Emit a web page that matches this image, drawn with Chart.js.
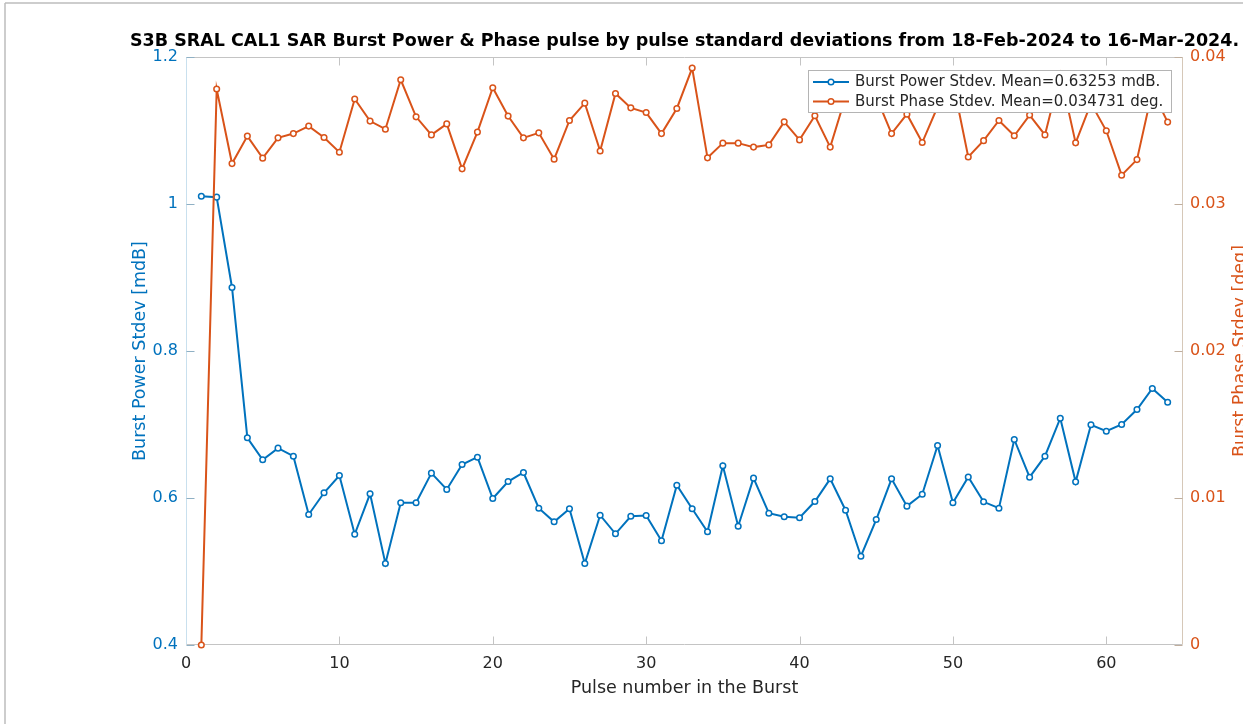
<!DOCTYPE html>
<html>
<head>
<meta charset="utf-8">
<script src="https://cdn.jsdelivr.net/npm/chart.js@4.4.1/dist/chart.umd.min.js"></script>
<style>
  html, body { margin: 0; padding: 0; background: #fff; }
  #wrap { position: relative; width: 1243px; height: 724px; }
</style>
</head>
<body>
<div id="wrap"><canvas id="chart" width="1243" height="724"></canvas></div>
<script>
const titleText = "S3B SRAL CAL1 SAR Burst Power & Phase pulse by pulse standard deviations from 18-Feb-2024 to 16-Mar-2024.";
const xTitle = "Pulse number in the Burst";
const powerTitle = "Burst Power Stdev [mdB]";
const phaseTitle = "Burst Phase Stdev [deg]";
const powerLabel = "Burst Power Stdev. Mean=0.63253 mdB.";
const phaseLabel = "Burst Phase Stdev. Mean=0.034731 deg.";

const pulses = [1, 2, 3, 4, 5, 6, 7, 8, 9, 10, 11, 12, 13, 14, 15, 16,
  17, 18, 19, 20, 21, 22, 23, 24, 25, 26, 27, 28, 29, 30, 31, 32,
  33, 34, 35, 36, 37, 38, 39, 40, 41, 42, 43, 44, 45, 46, 47, 48,
  49, 50, 51, 52, 53, 54, 55, 56, 57, 58, 59, 60, 61, 62, 63, 64];

const powerStdev = [1.0106, 1.0093, 0.8864, 0.6819, 0.6520, 0.6678, 0.6569, 0.5776,
  0.6071, 0.6306, 0.5507, 0.6057, 0.5109, 0.5935, 0.5935, 0.6338,
  0.6116, 0.6456, 0.6555, 0.5993, 0.6224, 0.6347, 0.5861, 0.5676,
  0.5853, 0.5109, 0.5766, 0.5513, 0.5752, 0.5762, 0.5418, 0.6174,
  0.5853, 0.5540, 0.6438, 0.5616, 0.6270, 0.5793, 0.5744, 0.5731,
  0.5952, 0.6261, 0.5834, 0.5208, 0.5707, 0.6261, 0.5889, 0.6052,
  0.6714, 0.5935, 0.6286, 0.5948, 0.5861, 0.6796, 0.6283, 0.6569,
  0.7086, 0.6220, 0.6996, 0.6909, 0.7000, 0.7204, 0.7490, 0.7303];

const phaseStdev = [0.0000, 0.03782, 0.03275, 0.03462, 0.03312, 0.03450, 0.03479, 0.03530,
  0.03452, 0.03352, 0.03714, 0.03564, 0.03509, 0.03845, 0.03593, 0.03470,
  0.03545, 0.03239, 0.03489, 0.03791, 0.03598, 0.03450, 0.03484, 0.03305,
  0.03568, 0.03686, 0.03361, 0.03752, 0.03654, 0.03622, 0.03479, 0.03650,
  0.03925, 0.03314, 0.03414, 0.03414, 0.03387, 0.03402, 0.03559, 0.03436,
  0.03600, 0.03387, 0.03729, 0.03780, 0.03729, 0.03479, 0.03611, 0.03418,
  0.03661, 0.03832, 0.03320, 0.03431, 0.03568, 0.03464, 0.03605, 0.03470,
  0.03886, 0.03416, 0.03685, 0.03498, 0.03196, 0.03302, 0.03770, 0.03557];

const xTicks = [0, 10, 20, 30, 40, 50, 60];
const powerTicks = [0.4, 0.6, 0.8, 1, 1.2];
const phaseTicks = [0, 0.01, 0.02, 0.03, 0.04];

const BLUE = '#0072BD';
const ORANGE = '#D95319';
const FONT = 'DejaVu Sans';

function seg(ctx, x1, y1, x2, y2) {
  ctx.beginPath();
  ctx.moveTo(x1, y1);
  ctx.lineTo(x2, y2);
  ctx.stroke();
}

// axes box, inner ticks, titles, legend
const decor = {
  id: 'decor',
  beforeDatasetsDraw(chart) {
    const { ctx, chartArea: a, scales } = chart;
    const L = Math.round(a.left) + 0.5, R = Math.round(a.right) - 0.5;
    const T = Math.round(a.top) + 0.5, B = Math.round(a.bottom) - 0.5;
    ctx.save();
    ctx.lineWidth = 1;
    ctx.strokeStyle = '#c4c4c4';
    seg(ctx, L, B, R, B);
    seg(ctx, L, T, R, T);
    xTicks.forEach(v => {
      const x = Math.round(scales.x.getPixelForValue(v)) + 0.5;
      seg(ctx, x, B, x, B - 8);
      seg(ctx, x, T, x, T + 8);
    });
    ctx.strokeStyle = '#c9e0ee';
    seg(ctx, L, T, L, B);
    ctx.strokeStyle = '#8fb0c4';
    powerTicks.forEach(v => {
      const y = Math.round(scales.y.getPixelForValue(v)) + 0.5;
      seg(ctx, L, y, L + 8, y);
    });
    ctx.strokeStyle = '#d6c8b8';
    seg(ctx, R, T, R, B);
    ctx.strokeStyle = '#bfae9e';
    phaseTicks.forEach(v => {
      const y = Math.round(scales.y1.getPixelForValue(v)) + 0.5;
      seg(ctx, R, y, R - 8, y);
    });
    ctx.restore();
  },
  afterDatasetsDraw(chart) {
    const { ctx } = chart;
    ctx.save();
    ctx.fillStyle = '#ffffff';
    ctx.strokeStyle = '#b4b4b4';
    ctx.lineWidth = 1;
    ctx.fillRect(808, 70, 363, 42);
    ctx.strokeRect(808.5, 70.5, 363, 42);
    const rows = [[powerLabel, BLUE, 82], [phaseLabel, ORANGE, 101.5]];
    ctx.font = '15px "' + FONT + '"';
    ctx.textBaseline = 'middle';
    ctx.textAlign = 'left';
    rows.forEach(([txt, col, y]) => {
      ctx.strokeStyle = col;
      ctx.lineWidth = 2;
      seg(ctx, 813, y, 849, y);
      ctx.beginPath();
      ctx.arc(831, y, 2.8, 0, Math.PI * 2);
      ctx.fillStyle = '#ffffff';
      ctx.fill();
      ctx.lineWidth = 1.5;
      ctx.stroke();
      ctx.fillStyle = '#262626';
      ctx.fillText(txt, 855, y + 0.5);
    });
    ctx.restore();
  },
  afterDraw(chart) {
    const { ctx, chartArea: a } = chart;
    const cx = (a.left + a.right) / 2, cy = (a.top + a.bottom) / 2;
    ctx.save();
    ctx.textAlign = 'center';
    ctx.textBaseline = 'alphabetic';
    ctx.fillStyle = '#000000';
    ctx.font = 'bold 17.5px "' + FONT + '"';
    ctx.fillText(titleText, cx, 46);
    ctx.font = '17.5px "' + FONT + '"';
    ctx.fillStyle = '#262626';
    ctx.fillText(xTitle, cx, 693);
    ctx.fillStyle = BLUE;
    ctx.translate(145, cy);
    ctx.rotate(-Math.PI / 2);
    ctx.fillText(powerTitle, 0, 0);
    ctx.restore();
    ctx.save();
    ctx.font = '17.5px "' + FONT + '"';
    ctx.textAlign = 'center';
    ctx.fillStyle = ORANGE;
    ctx.translate(1245, cy);
    ctx.rotate(-Math.PI / 2);
    ctx.fillText(phaseTitle, 0, 0);
    ctx.restore();
    // outer frame of the figure
    ctx.save();
    ctx.strokeStyle = '#bdbdbd';
    ctx.lineWidth = 1.5;
    seg(ctx, 5, 3, 1243, 3);
    seg(ctx, 5, 3, 5, 724);
    ctx.restore();
  }
};

const tickFmt = v => String(Number(v.toFixed(4)));

new Chart(document.getElementById('chart'), {
  type: 'line',
  data: {
    datasets: [
      {
        label: powerLabel,
        data: pulses.map((p, i) => ({ x: p, y: powerStdev[i] })),
        yAxisID: 'y',
        borderColor: BLUE,
        backgroundColor: BLUE,
        pointBackgroundColor: '#ffffff',
        pointBorderColor: BLUE,
        borderWidth: 2,
        pointRadius: 2.8,
        pointBorderWidth: 1.5,
        tension: 0,
        clip: false,
        order: 1
      },
      {
        label: phaseLabel,
        data: pulses.map((p, i) => ({ x: p, y: phaseStdev[i] })),
        yAxisID: 'y1',
        borderColor: ORANGE,
        backgroundColor: ORANGE,
        pointBackgroundColor: '#ffffff',
        pointBorderColor: ORANGE,
        borderWidth: 2,
        pointRadius: 2.8,
        pointBorderWidth: 1.5,
        tension: 0,
        clip: false,
        order: 0
      }
    ]
  },
  options: {
    responsive: false,
    animation: false,
    events: [],
    layout: { padding: { top: 57, left: 0, right: 0, bottom: 0 } },
    plugins: { legend: { display: false }, tooltip: { enabled: false }, title: { display: false } },
    scales: {
      x: {
        type: 'linear',
        min: 0,
        max: 65,
        grid: { display: false, drawTicks: false },
        border: { display: false },
        afterBuildTicks: s => { s.ticks = xTicks.map(v => ({ value: v })); },
        afterFit: s => { s.height = 79; },
        ticks: { color: '#262626', padding: 9, font: { family: FONT, size: 16 }, callback: tickFmt }
      },
      y: {
        type: 'linear',
        position: 'left',
        min: 0.4,
        max: 1.2,
        grid: { display: false, drawTicks: false },
        border: { display: false },
        afterBuildTicks: s => { s.ticks = powerTicks.map(v => ({ value: v })); },
        afterFit: s => { s.width = 186; },
        ticks: { color: BLUE, padding: 8, font: { family: FONT, size: 16 }, callback: tickFmt }
      },
      y1: {
        type: 'linear',
        position: 'right',
        min: 0,
        max: 0.04,
        grid: { display: false, drawTicks: false },
        border: { display: false },
        afterBuildTicks: s => { s.ticks = phaseTicks.map(v => ({ value: v })); },
        afterFit: s => { s.width = 60; },
        ticks: { color: ORANGE, padding: 7, font: { family: FONT, size: 16 }, callback: tickFmt }
      }
    }
  },
  plugins: [decor]
});
</script>
</body>
</html>
